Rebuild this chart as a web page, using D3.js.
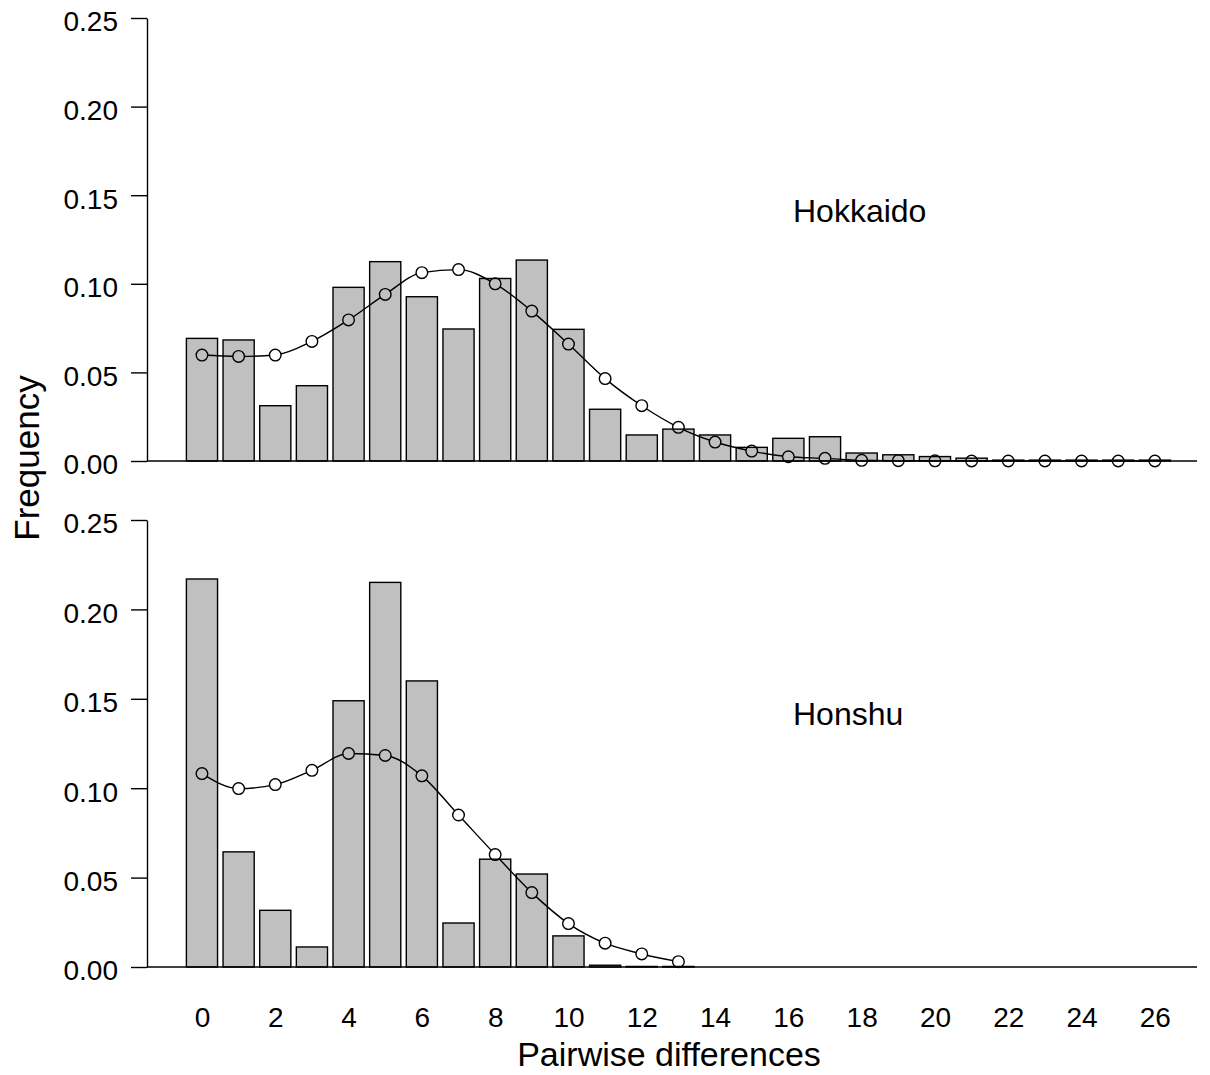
<!DOCTYPE html>
<html>
<head>
<meta charset="utf-8">
<script src="https://cdn.jsdelivr.net/npm/d3@7"></script>
<style>
  body { margin: 0; background: #fff; }
  text { font-family: "Liberation Sans", Arial, sans-serif; fill: #000; }
</style>
</head>
<body>
<div class="chart"></div>
<script>
// pairwise differences (x categories) and tick values
var diffs = [0, 1, 2, 3, 4, 5, 6, 7, 8, 9, 10, 11, 12, 13, 14, 15, 16, 17, 18, 19, 20, 21, 22, 23, 24, 25, 26];
var xTicks = [0, 2, 4, 6, 8, 10, 12, 14, 16, 18, 20, 22, 24, 26];
var yTicks = [0, 0.05, 0.10, 0.15, 0.20, 0.25];

// Hokkaido: observed (bars) and expected (line)
var hokkaidoObs = [0.0692, 0.0683, 0.0312, 0.0425, 0.0980, 0.1125, 0.0927, 0.0745, 0.1030, 0.1134, 0.0743,
    0.0292, 0.0147, 0.0180, 0.0147, 0.0077, 0.0128, 0.0137, 0.0045, 0.0035, 0.0025, 0.0016,
    0.0005, 0.0005, 0.0005, 0.0005, 0.0005];
var hokkaidoExp = [0.0598, 0.0590, 0.0598, 0.0675, 0.0796, 0.0940, 0.1063, 0.1080, 0.1000, 0.0846, 0.0660,
    0.0465, 0.0312, 0.0190, 0.0107, 0.0056, 0.0024, 0.0015, 0.0004, 0.0002, 0.0001, 0,
    0, 0, 0, 0, 0];

// Honshu
var honshuObs = [0.2170, 0.0644, 0.0317, 0.0112, 0.1489, 0.2151, 0.1600, 0.0246, 0.0603, 0.0520, 0.0174,
    0.0010, 0.0003, 0.0003];
var honshuExp = [0.1082, 0.0998, 0.1020, 0.1100, 0.1194, 0.1183, 0.1069, 0.0850, 0.0629, 0.0416, 0.0243,
    0.0133, 0.0073, 0.0030];

var svgWidth = 1210;
var svgHeight = 1075;

var svg = d3.select(".chart").append("svg")
    .attr("width", svgWidth).attr("height", svgHeight);

var defs = svg.append("defs");

// shared x scale, domain padded so the baseline runs past the bars
var xScale = d3.scaleLinear().domain([-1.5, 27.15]).range([147, 1197]);
var step = xScale(1) - xScale(0);
var barWidth = step * 0.85;

function drawPanel(id, name, obs, exp, top, bottom, labelY) {
    var yScale = d3.scaleLinear().domain([0, 0.25]).range([bottom, top]);
    var g = svg.append("g");

    var leftAxis = d3.axisLeft(yScale)
        .tickValues(yTicks)
        .tickFormat(d3.format(".2f"))
        .tickSize(16).tickSizeOuter(0).tickPadding(13);

    var yAxis = g.append("g")
        .attr("transform", "translate(147,0)")
        .call(leftAxis);
    yAxis.selectAll("path, line").attr("stroke", "#000").attr("stroke-width", 1.4);
    yAxis.selectAll("text")
        .attr("font-size", "28px")
        .attr("dy", "0.46em");

    // observed bars
    g.selectAll("rect.bar")
        .data(obs).enter().append("rect")
        .attr("class", "bar")
        .attr("x", (d, i) => xScale(diffs[i]) - barWidth / 2)
        .attr("y", d => yScale(d))
        .attr("width", barWidth)
        .attr("height", d => yScale(0) - yScale(d))
        .attr("fill", "#c0c0c0")
        .attr("stroke", "#000")
        .attr("stroke-width", 1.4);

    // baseline
    g.append("line")
        .attr("x1", xScale(-1.5)).attr("x2", xScale(27.15))
        .attr("y1", yScale(0)).attr("y2", yScale(0))
        .attr("stroke", "#000").attr("stroke-width", 1.5);

    // mask so the curve stops at the circle edges
    var r = 5.8;
    var mask = defs.append("mask").attr("id", "mask-" + id)
        .attr("maskUnits", "userSpaceOnUse")
        .attr("x", 0).attr("y", 0).attr("width", svgWidth).attr("height", svgHeight);
    mask.append("rect").attr("width", svgWidth).attr("height", svgHeight).attr("fill", "#fff");
    mask.selectAll("circle")
        .data(exp).enter().append("circle")
        .attr("cx", (d, i) => xScale(diffs[i]))
        .attr("cy", d => yScale(d))
        .attr("r", r)
        .attr("fill", "#000");

    var line = d3.line()
        .x((d, i) => xScale(diffs[i]))
        .y(d => yScale(d))
        .curve(d3.curveMonotoneX);

    g.append("path")
        .datum(exp)
        .attr("d", line)
        .attr("fill", "none")
        .attr("stroke", "#000")
        .attr("stroke-width", 1.4)
        .attr("mask", "url(#mask-" + id + ")");

    g.selectAll("circle.exp")
        .data(exp).enter().append("circle")
        .attr("class", "exp")
        .attr("cx", (d, i) => xScale(diffs[i]))
        .attr("cy", d => yScale(d))
        .attr("r", r)
        .attr("fill", "none")
        .attr("stroke", "#000")
        .attr("stroke-width", 1.4);

    g.append("text")
        .attr("x", 793)
        .attr("y", labelY)
        .attr("font-size", "32px")
        .text(name);

    return yScale;
}

drawPanel("hok", "Hokkaido", hokkaidoObs, hokkaidoExp, 18, 461, 222);
drawPanel("hon", "Honshu", honshuObs, honshuExp, 520, 967, 725);

// x tick labels under the lower panel
var bottomAxis = d3.axisBottom(xScale)
    .tickValues(xTicks)
    .tickFormat(d3.format("d"))
    .tickSize(0).tickPadding(40);

var xAxis = svg.append("g")
    .attr("transform", "translate(0,967)")
    .call(bottomAxis);
xAxis.select(".domain").remove();
xAxis.selectAll("text")
    .attr("font-size", "28px");

// axis titles
svg.append("text")
    .attr("x", 669)
    .attr("y", 1066)
    .attr("text-anchor", "middle")
    .attr("font-size", "34px")
    .text("Pairwise differences");

svg.append("text")
    .attr("transform", "translate(39,458) rotate(-90)")
    .attr("text-anchor", "middle")
    .attr("font-size", "35px")
    .text("Frequency");
</script>
</body>
</html>
